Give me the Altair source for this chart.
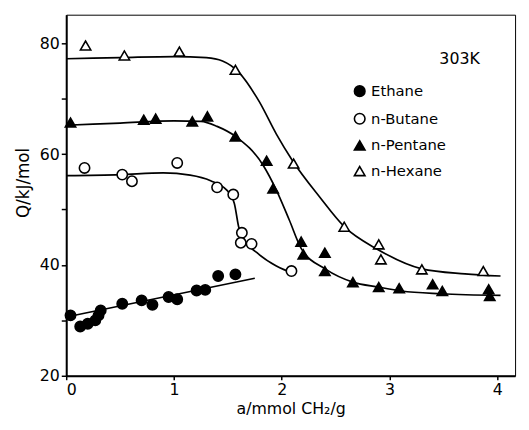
import altair as alt
import pandas as pd

# ---- measured points ----
eth_x = [0.04, 0.13, 0.20, 0.27, 0.30, 0.32, 0.52, 0.70, 0.80, 0.95, 1.03, 1.21, 1.29, 1.41, 1.57]
eth_y = [30.9, 28.9, 29.4, 30.0, 30.9, 31.8, 33.0, 33.6, 32.8, 34.2, 33.8, 35.4, 35.5, 38.0, 38.3]

but_x = [0.17, 0.52, 0.61, 1.03, 1.40, 1.55, 1.63, 1.62, 1.72, 2.09]
but_y = [57.5, 56.3, 55.1, 58.4, 54.0, 52.7, 45.8, 44.0, 43.8, 38.9]

pent_x = [0.04, 0.72, 0.83, 1.17, 1.31, 1.57, 1.86, 1.92, 2.18, 2.20, 2.40, 2.40, 2.66, 2.90, 3.09, 3.40, 3.49, 3.92, 3.93]
pent_y = [65.7, 66.2, 66.4, 65.9, 66.8, 63.2, 58.8, 53.8, 44.2, 41.9, 42.2, 38.9, 36.9, 36.0, 35.8, 36.5, 35.3, 35.6, 34.4]

hex_x = [0.18, 0.54, 1.05, 1.57, 2.11, 2.58, 2.90, 2.92, 3.30, 3.87]
hex_y = [79.6, 77.8, 78.5, 75.2, 58.3, 46.9, 43.7, 41.0, 39.2, 38.9]

# ---- fitted curves ----
eth_cx = [0.0, 1.75]
eth_cy = [30.6, 37.6]

but_cx = [0.0, 0.5, 0.9, 1.15, 1.34, 1.49, 1.56, 1.60, 1.65, 1.77, 1.95, 2.12]
but_cy = [56.1, 56.3, 56.6, 56.2, 55.2, 53.5, 51.1, 46.9, 44.6, 42.2, 39.8, 38.4]

pent_cx = [0.0, 0.5, 1.0, 1.25, 1.4, 1.57, 1.83, 1.95, 2.07, 2.18, 2.41, 2.66, 2.9, 3.11, 3.48, 4.03]
pent_cy = [65.2, 65.6, 66.0, 65.9, 65.0, 63.2, 57.9, 53.5, 48.1, 43.0, 39.2, 36.9, 36.0, 35.3, 34.8, 34.5]

hex_cx = [0.0, 0.5, 1.0, 1.3, 1.45, 1.6, 1.79, 1.95, 2.1, 2.35, 2.58, 2.89, 3.3, 3.7, 4.03]
hex_cy = [77.2, 77.4, 77.6, 77.4, 76.8, 74.8, 69.5, 63.6, 58.8, 52.3, 46.9, 42.8, 39.3, 38.4, 38.0]

series = ["Ethane", "n-Butane", "n-Pentane", "n-Hexane"]
fills = ["black", "white", "black", "white"]
strokes = ["black", "black", "black", "black"]
shapes = ["circle", "circle", "triangle-up", "triangle-up"]

note_x = [3.65]
note_y = [77.2]
note_text = ["303K"]

pts = pd.concat([
    pd.DataFrame({"x": eth_x, "y": eth_y, "s": "Ethane"}),
    pd.DataFrame({"x": but_x, "y": but_y, "s": "n-Butane"}),
    pd.DataFrame({"x": pent_x, "y": pent_y, "s": "n-Pentane"}),
    pd.DataFrame({"x": hex_x, "y": hex_y, "s": "n-Hexane"}),
])
curves = pd.concat([
    pd.DataFrame({"x": eth_cx, "y": eth_cy, "s": "Ethane"}),
    pd.DataFrame({"x": but_cx, "y": but_cy, "s": "n-Butane"}),
    pd.DataFrame({"x": pent_cx, "y": pent_cy, "s": "n-Pentane"}),
    pd.DataFrame({"x": hex_cx, "y": hex_cy, "s": "n-Hexane"}),
])
notes = pd.DataFrame({"x": note_x, "y": note_y, "t": note_text})

FONT = "DejaVu Sans"

xs = alt.Scale(domain=[0, 4.165], nice=False, zero=False)
ys = alt.Scale(domain=[20, 85.15], nice=False, zero=False)

xax = alt.Axis(values=[0, 1, 2, 3, 4], format="d", title="a/mmol CH₂/g", grid=False,
               tickSize=4, labelPadding=2, titlePadding=3, titleFontSize=16)
yax = alt.Axis(values=[20, 30, 40, 50, 60, 70, 80], grid=False, tickSize=5, labelPadding=2,
               labelExpr="datum.value % 20 == 0 ? datum.label : ''",
               title="Q/kJ/mol", titlePadding=7, titleFontSize=17, titleY=170)

leg = alt.Legend(orient="none", legendX=290, legendY=70,
                 labelFontSize=15, labelFont=FONT, labelColor="black", rowPadding=9,
                 symbolSize=115, symbolStrokeWidth=1.6,
                 symbolStrokeColor="black", labelOffset=4)

lines = alt.Chart(curves).mark_line(color="black", strokeWidth=1.7, interpolate="monotone").encode(
    x=alt.X("x:Q", scale=xs, axis=xax),
    y=alt.Y("y:Q", scale=ys, axis=yax),
    detail="s:N",
)

points = alt.Chart(pts).mark_point(size=110, strokeWidth=1.6, opacity=1, filled=False).encode(
    x=alt.X("x:Q", scale=xs),
    y=alt.Y("y:Q", scale=ys),
    shape=alt.Shape("s:N", sort=series, title=None,
                    scale=alt.Scale(domain=series, range=shapes), legend=leg),
    fill=alt.Fill("s:N", sort=series, title=None,
                  scale=alt.Scale(domain=series, range=fills), legend=leg),
    stroke=alt.Stroke("s:N", sort=series, title=None,
                      scale=alt.Scale(domain=series, range=strokes), legend=leg),
)

note = alt.Chart(notes).mark_text(fontSize=16, font=FONT, color="black").encode(
    x=alt.X("x:Q", scale=xs),
    y=alt.Y("y:Q", scale=ys),
    text="t:N",
)

chart = alt.layer(lines, points, note).properties(
    width=455, height=366,
    autosize=alt.AutoSizeParams(type="none"),
    padding={"left": 59, "top": 4, "right": 6, "bottom": 40},
).configure(background="white").configure_view(
    stroke="black", strokeWidth=1
).configure_axis(
    domainColor="black", domainWidth=2, tickColor="black", tickWidth=1.5,
    labelFont=FONT, labelFontSize=16, labelColor="black",
    titleFont=FONT, titleFontSize=15, titleFontWeight="normal", titleColor="black",
)

chart.save("out.html", embed_options={"renderer": "svg", "actions": False})
